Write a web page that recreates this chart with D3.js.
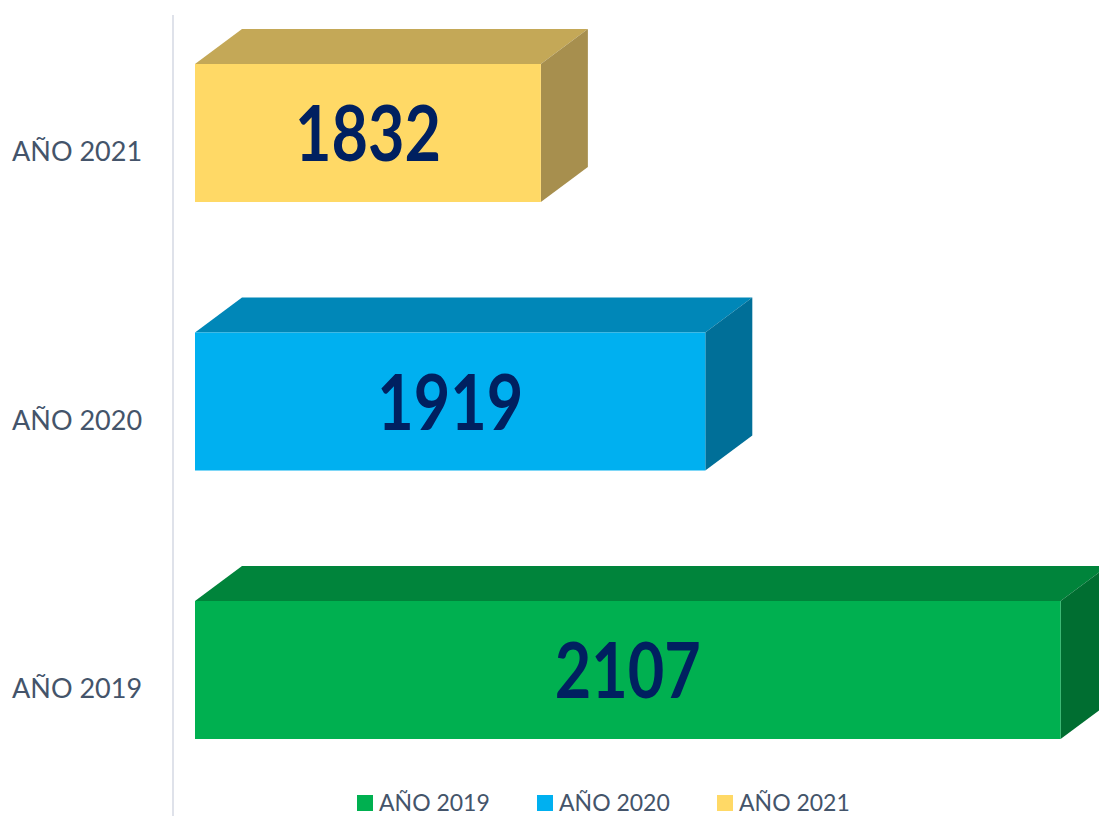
<!DOCTYPE html>
<html>
<head>
<meta charset="utf-8">
<script src="https://cdn.jsdelivr.net/npm/d3@7"></script>
<style>
    body { margin: 0; background: #fff; }
    .cat { font-family: Lato, "Open Sans", sans-serif; fill: #44546a; }
    .value { font-family: Lato, "Open Sans", sans-serif; font-weight: bold; fill: #002060; }
</style>
</head>
<body>
<div id="viz"></div>
<script>
// Data
const categories = ["AÑO 2021", "AÑO 2020", "AÑO 2019"];
const values = [1832, 1919, 2107];
const legendOrder = ["AÑO 2019", "AÑO 2020", "AÑO 2021"];
const frontColors = ["#FFD966", "#00B0F0", "#00B050"];
const topColors = ["#C4A857", "#0087B8", "#00843B"];
const sideColors = ["#A78F4E", "#006F98", "#006E31"];

const width = 1099, height = 816;
const depth = {dx: 47, dy: -35};

const svg = d3.select("#viz")
    .append("svg")
        .attr("width", width)
        .attr("height", height);

// Scales
const x = d3.scaleLinear()
    .domain([1649, 2149])
    .range([195, 1140]);

const y = d3.scaleBand()
    .domain(categories)
    .range([-1.25, 804.25])
    .paddingInner(0.486)
    .paddingOuter(0.243);

const bw = y.bandwidth();

// Axis line
svg.append("line")
    .attr("x1", 173).attr("x2", 173)
    .attr("y1", 15).attr("y2", height)
    .attr("stroke", "#dfe2ea")
    .attr("stroke-width", 2);

const bars = svg.selectAll("g.bar")
    .data(categories)
    .join("g")
        .attr("class", "bar");

// top face
bars.append("path")
    .attr("fill", (d, i) => topColors[i])
    .attr("d", (d, i) => {
        const x0 = x.range()[0], x1 = x(values[i]), y0 = y(d);
        return `M${x0},${y0} L${x0 + depth.dx},${y0 + depth.dy} L${x1 + depth.dx},${y0 + depth.dy} L${x1},${y0} Z`;
    });

// side face
bars.append("path")
    .attr("fill", (d, i) => sideColors[i])
    .attr("d", (d, i) => {
        const x1 = x(values[i]), y0 = y(d);
        return `M${x1},${y0} L${x1 + depth.dx},${y0 + depth.dy} L${x1 + depth.dx},${y0 + bw + depth.dy} L${x1},${y0 + bw} Z`;
    });

// front face
bars.append("rect")
    .attr("x", x.range()[0])
    .attr("y", d => y(d))
    .attr("width", (d, i) => x(values[i]) - x.range()[0])
    .attr("height", bw)
    .attr("fill", (d, i) => frontColors[i]);

// Value labels
bars.append("text")
    .attr("class", "value")
    .attr("x", (d, i) => (x.range()[0] + x(values[i])) / 2)
    .attr("y", d => y(d) + bw / 2 + 28)
    .attr("text-anchor", "middle")
    .attr("font-size", 76)
    .attr("textLength", 146)
    .attr("lengthAdjust", "spacingAndGlyphs")
    .text((d, i) => values[i]);

// Category labels
svg.selectAll("text.cat")
    .data(categories)
    .join("text")
        .attr("class", "cat")
        .attr("x", 12)
        .attr("y", d => y(d) + bw / 2 + 28)
        .attr("font-size", 27)
        .text(d => d);

// Legend
const legend = svg.selectAll("g.legend")
    .data(legendOrder)
    .join("g")
        .attr("class", "legend")
        .attr("transform", (d, i) => `translate(${357 + i * 180},0)`);

legend.append("rect")
    .attr("x", 0).attr("y", 795)
    .attr("width", 16).attr("height", 16)
    .attr("fill", d => frontColors[categories.indexOf(d)]);

legend.append("text")
    .attr("class", "cat")
    .attr("x", 22)
    .attr("y", 811)
    .attr("font-size", 23)
    .text(d => d);
</script>
</body>
</html>
